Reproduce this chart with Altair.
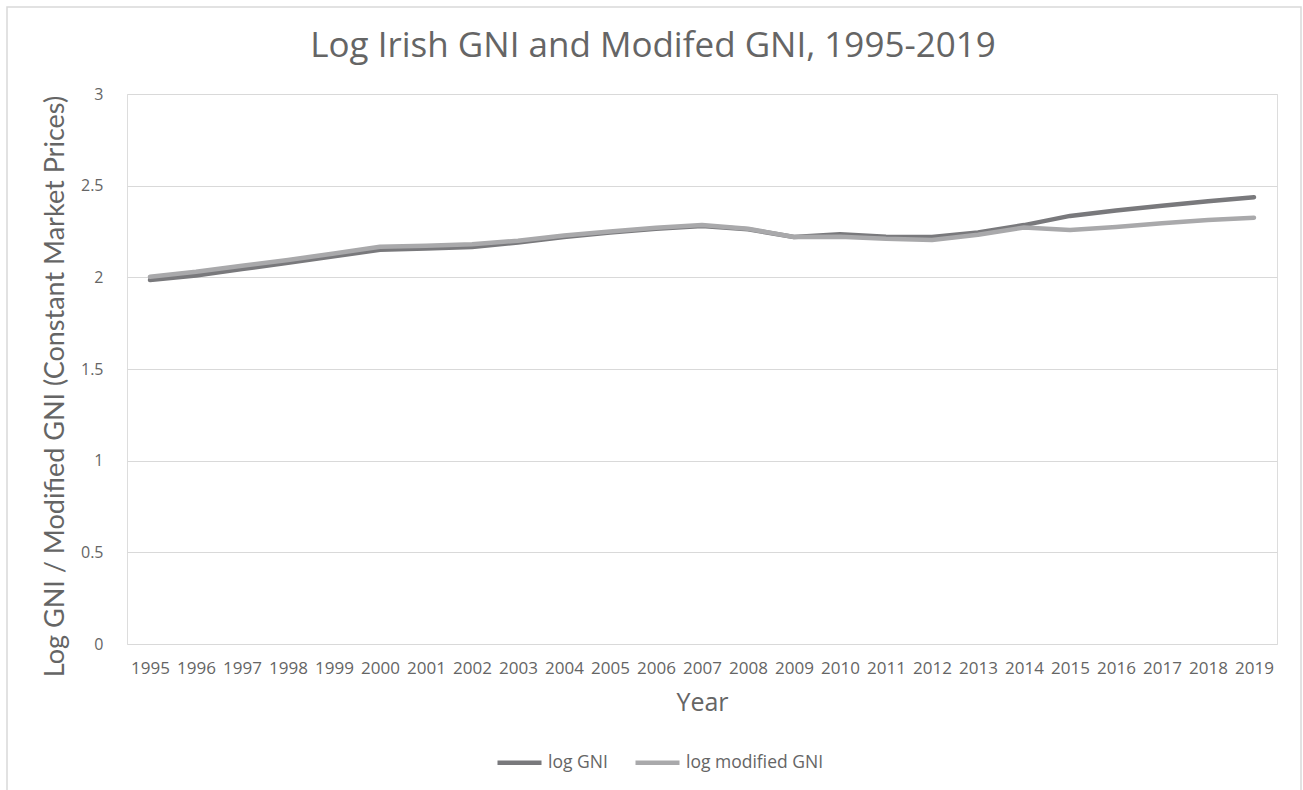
import altair as alt
import pandas as pd

# Years on the category axis
years = [str(y) for y in range(1995, 2020)]

# Log GNI series (constant market prices)
log_gni = [1.985, 2.010, 2.045, 2.080, 2.115, 2.150, 2.157, 2.165, 2.190, 2.220,
           2.245, 2.265, 2.280, 2.262, 2.220, 2.235, 2.222, 2.220, 2.245, 2.285,
           2.335, 2.365, 2.390, 2.415, 2.437]

# Log modified GNI series
log_mod_gni = [2.003, 2.030, 2.063, 2.095, 2.130, 2.167, 2.172, 2.180, 2.200, 2.228,
               2.250, 2.270, 2.285, 2.265, 2.220, 2.222, 2.210, 2.204, 2.232, 2.272,
               2.258, 2.275, 2.295, 2.313, 2.325]

series_names = ["log GNI", "log modified GNI"]
series_colors = ["#79797c", "#a9a9ab"]
y_ticks = [0, 0.5, 1, 1.5, 2, 2.5, 3]

rows = []
for i, yr in enumerate(years):
    rows.append({"Year": yr, "Series": series_names[0], "Value": log_gni[i], "ord": 0})
    rows.append({"Year": yr, "Series": series_names[1], "Value": log_mod_gni[i], "ord": 1})
df = pd.DataFrame(rows)

TEXT = "#656565"
GRID = "#d9d9d9"

W, H = 1150, 550

lines = alt.Chart(df).mark_line(strokeWidth=4.5, strokeCap="round", strokeJoin="round").encode(
    x=alt.X("Year:O", sort=years,
            scale=alt.Scale(type="point", padding=0.5),
            axis=alt.Axis(title="Year", labelAngle=0, ticks=False, domain=False, grid=False,
                          labelFont="Open Sans", labelFontSize=17, labelColor=TEXT,
                          labelPadding=16, titleFont="Open Sans", titleFontSize=25,
                          titleFontWeight="normal", titleColor=TEXT, titlePadding=14)),
    y=alt.Y("Value:Q",
            scale=alt.Scale(domain=[0, 3], nice=False, zero=True),
            axis=alt.Axis(title="Log GNI / Modified GNI (Constant Market Prices)",
                          values=y_ticks, format="~g", ticks=False, domain=False, grid=True,
                          gridColor=GRID, gridWidth=1.2,
                          labelFont="Open Sans", labelFontSize=16, labelColor=TEXT,
                          labelPadding=24, titleFont="Lato", titleFontSize=27,
                          titleFontWeight="normal", titleColor=TEXT,
                          titleX=-72, titleY=292, titleBaseline="middle")),
    color=alt.Color("Series:N",
                    scale=alt.Scale(domain=series_names, range=series_colors),
                    legend=alt.Legend(title=None, orient="none", direction="horizontal",
                                      legendX=368, legendY=644,
                                      symbolType="stroke", symbolSize=1936,
                                      symbolStrokeWidth=4.5, columnPadding=18,
                                      labelFont="Open Sans", labelFontSize=17.5,
                                      labelColor=TEXT, labelOffset=4)),
    order=alt.Order("ord:Q"),
    detail="Series:N",
)

# Light outer frame around the whole figure
frame = alt.Chart(pd.DataFrame({"k": [0]})).mark_rect(
    fill=None, stroke="#d9d9d9", strokeWidth=1.5
).encode(
    x=alt.value(-120), x2=alt.value(W + 24),
    y=alt.value(-87), y2=alt.value(H + 160),
)

chart = alt.layer(frame, lines).properties(
    width=W, height=H,
    title=alt.TitleParams("Log Irish GNI and Modifed GNI, 1995-2019",
                          font="Open Sans", fontSize=35, fontWeight="normal",
                          color=TEXT, anchor="middle", dx=-49, offset=-58),
    autosize=alt.AutoSizeParams(type="none"),
    padding={"left": 127, "top": 94, "right": 26, "bottom": 146},
).configure_view(stroke=None).configure(background="white")

chart.save("out.html", embed_options={"renderer": "svg", "actions": False})
